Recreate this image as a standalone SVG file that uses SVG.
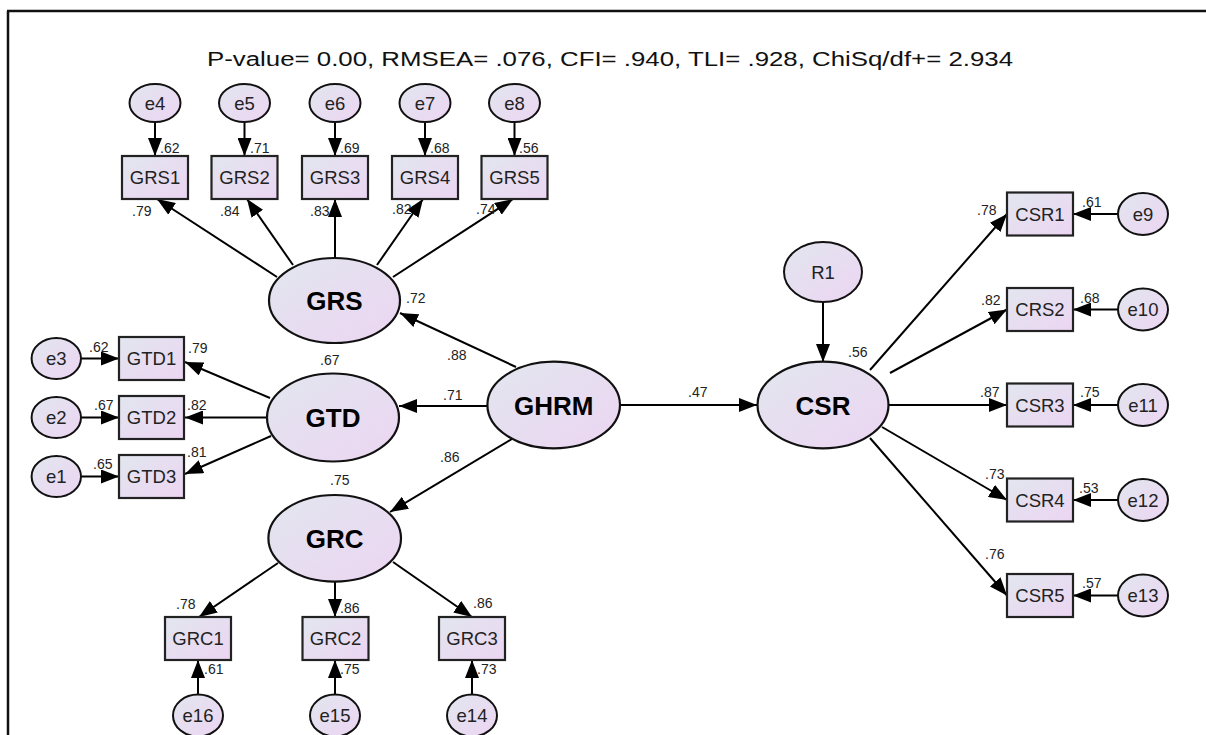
<svg xmlns="http://www.w3.org/2000/svg" width="1206" height="735" viewBox="0 0 1206 735">
<defs>
<linearGradient id="fill" x1="0" y1="0" x2="1" y2="1">
<stop offset="0" stop-color="#e2e6ef"/>
<stop offset="1" stop-color="#ecd5f2"/>
</linearGradient>
<marker id="arr" markerUnits="userSpaceOnUse" markerWidth="18" markerHeight="14" viewBox="0 0 18 14" refX="18" refY="7" orient="auto">
<path d="M0,0 L18,7 L0,14 z" fill="#000"/>
</marker>
</defs>
<style>
.box{fill:url(#fill);stroke:#222;stroke-width:2.2}
.ell{fill:url(#fill);stroke:#111;stroke-width:2}
.lat{fill:url(#fill);stroke:#111;stroke-width:2.2}
.t{font-family:"Liberation Sans",Arial,sans-serif;font-size:18.5px;fill:#222;text-anchor:middle}
.b{font-family:"Liberation Sans",Arial,sans-serif;font-size:26px;font-weight:bold;fill:#000;text-anchor:middle}
.n{font-family:"Liberation Sans",Arial,sans-serif;font-size:14px;fill:#222}
.c line{stroke:#000;stroke-width:2;marker-end:url(#arr)}
</style>
<path d="M7,11 H1206 M8,11 V735" stroke="#111" stroke-width="2.5" fill="none"/>
<text x="207" y="66" font-family="Liberation Sans, Arial, sans-serif" font-size="20" fill="#111" textLength="806" lengthAdjust="spacingAndGlyphs">P-value= 0.00, RMSEA= .076, CFI= .940, TLI= .928, ChiSq/df+= 2.934</text>

<g id="connectors" class="c">
<line x1="155" y1="122" x2="155" y2="156"/>
<line x1="244.5" y1="122" x2="244.5" y2="156"/>
<line x1="335" y1="122" x2="335" y2="156"/>
<line x1="425" y1="122" x2="425" y2="156"/>
<line x1="514.5" y1="122" x2="514.5" y2="156"/>
<line x1="277" y1="277" x2="157" y2="199"/>
<line x1="293" y1="265" x2="247" y2="199"/>
<line x1="335" y1="258" x2="335" y2="199"/>
<line x1="377" y1="265" x2="423" y2="199"/>
<line x1="393" y1="277" x2="513" y2="199"/>
<line x1="516" y1="367" x2="400" y2="313"/>
<line x1="487" y1="406" x2="399" y2="406"/>
<line x1="512" y1="439" x2="390" y2="512"/>
<line x1="620" y1="405" x2="757" y2="405"/>
<line x1="270" y1="398" x2="185" y2="362"/>
<line x1="266" y1="417.5" x2="185" y2="417.5"/>
<line x1="271" y1="436" x2="185" y2="474"/>
<line x1="81" y1="358.5" x2="119" y2="358.5"/>
<line x1="81" y1="417.5" x2="119" y2="417.5"/>
<line x1="81" y1="476.5" x2="119" y2="476.5"/>
<line x1="278" y1="563" x2="199" y2="617"/>
<line x1="335" y1="582" x2="335" y2="617"/>
<line x1="393" y1="562" x2="472" y2="617"/>
<line x1="198" y1="694" x2="198" y2="660"/>
<line x1="335" y1="694" x2="335" y2="660"/>
<line x1="472" y1="694" x2="472" y2="660"/>
<line x1="823" y1="302" x2="823" y2="362"/>
<line x1="870" y1="370" x2="1007" y2="214"/>
<line x1="890" y1="373" x2="1007" y2="309.5"/>
<line x1="888" y1="405" x2="1007" y2="405"/>
<line x1="882" y1="427" x2="1007" y2="500"/>
<line x1="870" y1="438" x2="1007" y2="595.5"/>
<line x1="1118" y1="214" x2="1073" y2="214"/>
<line x1="1118" y1="309.5" x2="1073" y2="309.5"/>
<line x1="1118" y1="405" x2="1073" y2="405"/>
<line x1="1118" y1="500" x2="1073" y2="500"/>
<line x1="1118" y1="595.5" x2="1073" y2="595.5"/>
</g>

<g id="e4"><ellipse class="ell" cx="155" cy="103" rx="25.5" ry="19"/><text class="t" x="155" y="109.5">e4</text></g>
<g id="e5"><ellipse class="ell" cx="244.5" cy="103" rx="25.5" ry="19"/><text class="t" x="244.5" y="109.5">e5</text></g>
<g id="e6"><ellipse class="ell" cx="335" cy="103" rx="25.5" ry="19"/><text class="t" x="335" y="109.5">e6</text></g>
<g id="e7"><ellipse class="ell" cx="425" cy="103" rx="25.5" ry="19"/><text class="t" x="425" y="109.5">e7</text></g>
<g id="e8"><ellipse class="ell" cx="514.5" cy="103" rx="25.5" ry="19"/><text class="t" x="514.5" y="109.5">e8</text></g>

<g id="GRS1"><rect class="box" x="122" y="156" width="66" height="43"/><text class="t" x="155" y="184">GRS1</text></g>
<g id="GRS2"><rect class="box" x="211.5" y="156" width="66" height="43"/><text class="t" x="244.5" y="184">GRS2</text></g>
<g id="GRS3"><rect class="box" x="302" y="156" width="66" height="43"/><text class="t" x="335" y="184">GRS3</text></g>
<g id="GRS4"><rect class="box" x="392" y="156" width="66" height="43"/><text class="t" x="425" y="184">GRS4</text></g>
<g id="GRS5"><rect class="box" x="481.5" y="156" width="66" height="43"/><text class="t" x="514.5" y="184">GRS5</text></g>

<g id="GRS"><ellipse class="lat" cx="334.5" cy="300.5" rx="65.5" ry="42.5"/><text class="b" x="334.5" y="310">GRS</text></g>
<g id="GTD"><ellipse class="lat" cx="333" cy="417.5" rx="66" ry="44"/><text class="b" x="333" y="427">GTD</text></g>
<g id="GRC"><ellipse class="lat" cx="334.7" cy="538.3" rx="66.3" ry="43.3"/><text class="b" x="334.7" y="548">GRC</text></g>
<g id="GHRM"><ellipse class="lat" cx="553.7" cy="405" rx="66.3" ry="43.3"/><text class="b" x="553.7" y="414.5">GHRM</text></g>
<g id="CSR"><ellipse class="lat" cx="823" cy="405" rx="65.5" ry="43.3"/><text class="b" x="823" y="414.5">CSR</text></g>

<g id="e3"><ellipse class="ell" cx="56.3" cy="358.5" rx="24.7" ry="20.5"/><text class="t" x="56.3" y="365">e3</text></g>
<g id="e2"><ellipse class="ell" cx="56.3" cy="417.5" rx="24.7" ry="20.5"/><text class="t" x="56.3" y="424">e2</text></g>
<g id="e1"><ellipse class="ell" cx="56.3" cy="476.5" rx="24.7" ry="20.5"/><text class="t" x="56.3" y="483">e1</text></g>

<g id="GTD1"><rect class="box" x="119" y="337" width="65" height="43"/><text class="t" x="151.5" y="365">GTD1</text></g>
<g id="GTD2"><rect class="box" x="119" y="396" width="65" height="43"/><text class="t" x="151.5" y="424">GTD2</text></g>
<g id="GTD3"><rect class="box" x="119" y="455" width="65" height="43"/><text class="t" x="151.5" y="483">GTD3</text></g>

<g id="GRC1"><rect class="box" x="165" y="617" width="66" height="43"/><text class="t" x="198" y="645">GRC1</text></g>
<g id="GRC2"><rect class="box" x="302.5" y="617" width="66" height="43"/><text class="t" x="335.5" y="645">GRC2</text></g>
<g id="GRC3"><rect class="box" x="439" y="617" width="66" height="43"/><text class="t" x="472" y="645">GRC3</text></g>

<g id="e16"><ellipse class="ell" cx="198" cy="715.5" rx="25" ry="21"/><text class="t" x="198" y="722">e16</text></g>
<g id="e15"><ellipse class="ell" cx="335" cy="715.5" rx="25" ry="21"/><text class="t" x="335" y="722">e15</text></g>
<g id="e14"><ellipse class="ell" cx="472" cy="715.5" rx="25" ry="21"/><text class="t" x="472" y="722">e14</text></g>

<g id="R1"><ellipse class="ell" cx="823" cy="272" rx="39" ry="30"/><text class="t" x="823" y="278.5">R1</text></g>

<g id="CSR1"><rect class="box" x="1007" y="192.5" width="66" height="43"/><text class="t" x="1040" y="220.5">CSR1</text></g>
<g id="CRS2"><rect class="box" x="1007" y="288" width="66" height="43"/><text class="t" x="1040" y="316">CRS2</text></g>
<g id="CSR3"><rect class="box" x="1007" y="383.5" width="66" height="43"/><text class="t" x="1040" y="411.5">CSR3</text></g>
<g id="CSR4"><rect class="box" x="1007" y="478.5" width="66" height="43"/><text class="t" x="1040" y="506.5">CSR4</text></g>
<g id="CSR5"><rect class="box" x="1007" y="574" width="66" height="43"/><text class="t" x="1040" y="602">CSR5</text></g>

<g id="e9"><ellipse class="ell" cx="1143" cy="214" rx="25" ry="21"/><text class="t" x="1143" y="220.5">e9</text></g>
<g id="e10"><ellipse class="ell" cx="1143" cy="309.5" rx="25" ry="21"/><text class="t" x="1143" y="316">e10</text></g>
<g id="e11"><ellipse class="ell" cx="1143" cy="405" rx="25" ry="21"/><text class="t" x="1143" y="411.5">e11</text></g>
<g id="e12"><ellipse class="ell" cx="1143" cy="500" rx="25" ry="21"/><text class="t" x="1143" y="506.5">e12</text></g>
<g id="e13"><ellipse class="ell" cx="1143" cy="595.5" rx="25" ry="21"/><text class="t" x="1143" y="602">e13</text></g>

<g id="labels" class="n">
<text class="n" x="160" y="153">.62</text>
<text class="n" x="250" y="153">.71</text>
<text class="n" x="340" y="153">.69</text>
<text class="n" x="430" y="153">.68</text>
<text class="n" x="519" y="153">.56</text>
<text class="n" x="132" y="216">.79</text>
<text class="n" x="220" y="216">.84</text>
<text class="n" x="310" y="216">.83</text>
<text class="n" x="392" y="214">.82</text>
<text class="n" x="476" y="214">.74</text>
<text class="n" x="406" y="303">.72</text>
<text class="n" x="320" y="365">.67</text>
<text class="n" x="330" y="485">.75</text>
<text class="n" x="447" y="360">.88</text>
<text class="n" x="443" y="400">.71</text>
<text class="n" x="440" y="462">.86</text>
<text class="n" x="688" y="397">.47</text>
<text class="n" x="89" y="352">.62</text>
<text class="n" x="188" y="353">.79</text>
<text class="n" x="94" y="410">.67</text>
<text class="n" x="187" y="410">.82</text>
<text class="n" x="93" y="469">.65</text>
<text class="n" x="187" y="457">.81</text>
<text class="n" x="176" y="609">.78</text>
<text class="n" x="340" y="613">.86</text>
<text class="n" x="473" y="608">.86</text>
<text class="n" x="204" y="674">.61</text>
<text class="n" x="340" y="674">.75</text>
<text class="n" x="477" y="674">.73</text>
<text class="n" x="848" y="357">.56</text>
<text class="n" x="977" y="215">.78</text>
<text class="n" x="1082" y="207">.61</text>
<text class="n" x="981" y="305">.82</text>
<text class="n" x="1080" y="303">.68</text>
<text class="n" x="980" y="397">.87</text>
<text class="n" x="1080" y="397">.75</text>
<text class="n" x="985" y="479">.73</text>
<text class="n" x="1079" y="493">.53</text>
<text class="n" x="985" y="559">.76</text>
<text class="n" x="1082" y="588">.57</text>
</g>
</svg>
